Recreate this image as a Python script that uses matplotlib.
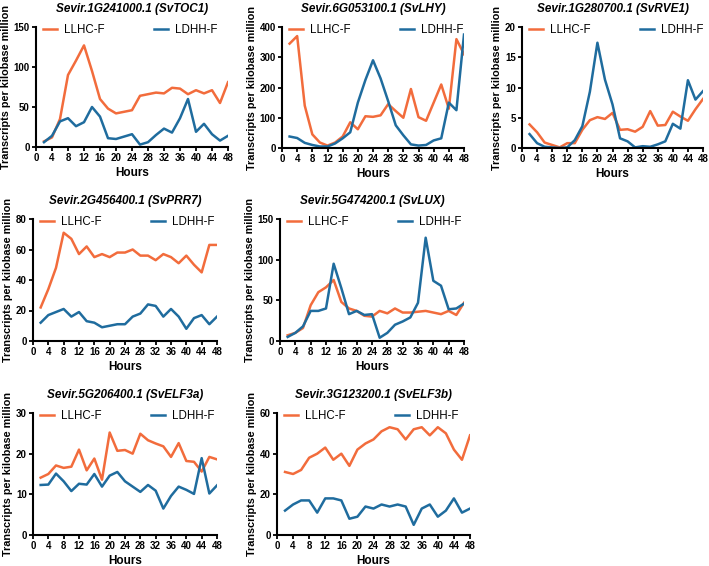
import numpy as np
import matplotlib
matplotlib.use('Agg')
import matplotlib.pyplot as plt

plt.rcParams['font.family'] = ['Liberation Sans', 'DejaVu Sans']

hours = [2, 4, 6, 8, 10, 12, 14, 16, 18, 20, 22, 24, 26, 28, 30, 32, 34, 36, 38, 40, 42, 44, 46, 48]

toc1_llhc = [7, 12, 35, 90, 108, 127, 95, 60, 48, 42, 44, 46, 64, 66, 68, 67, 74, 73, 66, 71, 67, 71, 55, 81]
toc1_ldhh = [6, 14, 32, 36, 26, 31, 50, 38, 11, 10, 13, 16, 3, 6, 15, 23, 18, 36, 60, 19, 29, 16, 8, 14]

lhy_llhc = [345, 370, 140, 45, 18, 8, 18, 38, 85, 62, 105, 103, 108, 145, 122, 100, 195, 102, 90, 150, 210, 130, 360, 310]
lhy_ldhh = [38, 33, 17, 10, 5, 5, 15, 32, 52, 150, 225, 290, 230, 155, 75, 42, 12, 8, 10, 25, 32, 150, 125, 375]

rve1_llhc = [3.9, 2.6, 0.9, 0.5, 0.1, 0.8, 0.8, 3.0, 4.6, 5.1, 4.8, 5.8, 3.0, 3.1, 2.7, 3.5, 6.1, 3.7, 3.8, 6.0, 5.2, 4.5, 6.4, 8.1]
rve1_ldhh = [2.3, 0.8, 0.2, 0.1, 0.0, 0.1, 1.3, 3.6, 9.3, 17.4, 11.3, 7.2, 1.6, 1.1, 0.1, 0.3, 0.2, 0.6, 1.1, 4.0, 3.2, 11.2, 8.0, 9.4]

prr7_llhc = [22, 34, 48, 71, 67, 57, 62, 55, 57, 55, 58, 58, 60, 56, 56, 53, 57, 55, 51, 56, 50, 45, 63, 63]
prr7_ldhh = [12, 17, 19, 21, 16, 19, 13, 12, 9, 10, 11, 11, 16, 18, 24, 23, 16, 21, 16, 8, 15, 17, 11, 16]

lux_llhc = [7, 10, 16, 44, 60, 66, 75, 48, 40, 37, 31, 30, 37, 34, 40, 35, 35, 36, 37, 35, 33, 37, 32, 47]
lux_ldhh = [5, 10, 18, 37, 37, 40, 95, 65, 33, 37, 32, 33, 4, 10, 20, 24, 29, 47, 127, 74, 68, 39, 40, 46]

elf3a_llhc = [14.1, 15.0, 17.1, 16.5, 16.8, 21.0, 15.9, 18.8, 13.6, 25.2, 20.7, 20.9, 20.0, 24.9, 23.3, 22.5, 21.8, 19.2, 22.6, 18.2, 18.0, 15.6, 19.2, 18.6]
elf3a_ldhh = [12.3, 12.4, 15.1, 13.2, 10.8, 12.6, 12.4, 15.0, 11.9, 14.6, 15.5, 13.2, 11.9, 10.6, 12.3, 10.9, 6.5, 9.6, 11.9, 11.1, 10.1, 18.9, 10.2, 12.2]

elf3b_llhc = [31, 30, 32, 38, 40, 43, 37, 40, 34, 42, 45, 47, 51, 53, 52, 47, 52, 53, 49, 53, 50, 42, 37, 49]
elf3b_ldhh = [12, 15, 17, 17, 11, 18, 18, 17, 8, 9, 14, 13, 15, 14, 15, 14, 5, 13, 15, 9, 12, 18, 11, 13]

titles = ['Sevir.1G241000.1 (SvTOC1)', 'Sevir.6G053100.1 (SvLHY)', 'Sevir.1G280700.1 (SvRVE1)',
          'Sevir.2G456400.1 (SvPRR7)', 'Sevir.5G474200.1 (SvLUX)',
          'Sevir.5G206400.1 (SvELF3a)', 'Sevir.3G123200.1 (SvELF3b)']
llhc = [toc1_llhc, lhy_llhc, rve1_llhc, prr7_llhc, lux_llhc, elf3a_llhc, elf3b_llhc]
ldhh = [toc1_ldhh, lhy_ldhh, rve1_ldhh, prr7_ldhh, lux_ldhh, elf3a_ldhh, elf3b_ldhh]
ymax = [150, 400, 20, 80, 150, 30, 60]
ystep = [50, 100, 5, 20, 50, 10, 20]

# axes boxes in pixels: left, top, right, bottom
boxes = [(36, 27, 228, 147), (282, 27, 464, 148), (522, 27, 703, 148),
         (33, 219, 217, 341), (280, 219, 464, 341),
         (33, 413, 217, 535), (277, 413, 470, 535)]

W, H = 709, 566
fig = plt.figure(figsize=(W / 100, H / 100), dpi=100)

orange = '#F26C3C'
blue = '#1F6C9E'

for i in range(7):
    l, t, r, b = boxes[i]
    ax = fig.add_axes([l / W, 1 - b / H, (r - l) / W, (b - t) / H])
    ax.plot(hours, llhc[i], color=orange, linewidth=1.8, label='LLHC-F')
    ax.plot(hours, ldhh[i], color=blue, linewidth=1.8, label='LDHH-F')
    ax.set_xlim(0, 48)
    ax.set_ylim(0, ymax[i])
    ax.set_xticks(np.arange(0, 49, 4))
    ax.set_yticks(np.arange(0, ymax[i] + 0.1, ystep[i]))
    for s in ['top', 'right']:
        ax.spines[s].set_visible(False)
    for s in ['left', 'bottom']:
        ax.spines[s].set_linewidth(1.5)
    ax.tick_params(width=1.3, length=3, labelsize=7, pad=1.5)
    for lab in ax.get_xticklabels() + ax.get_yticklabels():
        lab.set_fontweight('bold')
    ax.set_title(titles[i], fontsize=8.5, fontweight='bold', style='italic', pad=11)
    ax.set_xlabel('Hours', fontsize=8.5, fontweight='bold', labelpad=3)
    ax.set_ylabel('Transcripts per kilobase million', fontsize=7.8, fontweight='bold', labelpad=2)
    ax.legend(loc='upper left', bbox_to_anchor=(0.0, 1.08), ncol=2, frameon=False,
              fontsize=8.3, handlelength=1.2, handletextpad=0.6, columnspacing=4.3,
              borderaxespad=0.2)

fig.savefig('out.png', dpi=100)
